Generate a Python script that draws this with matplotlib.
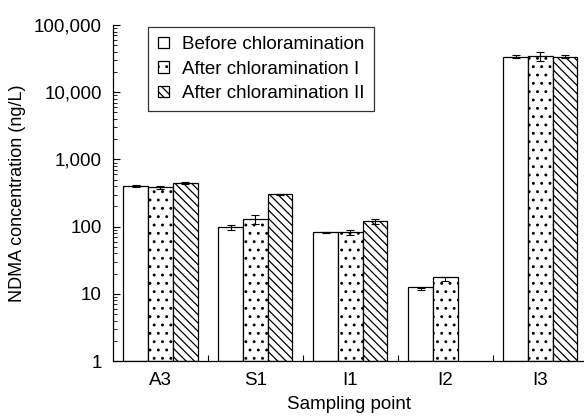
import matplotlib
matplotlib.use("Agg")
import matplotlib.pyplot as plt
import numpy as np
from matplotlib.ticker import FuncFormatter, LogLocator, FixedLocator

plt.rcParams['font.family'] = ['Liberation Sans', 'DejaVu Sans']
plt.rcParams['hatch.linewidth'] = 0.9

categories = ["A3", "S1", "I1", "I2", "I3"]
series_names = ["Before chloramination", "After chloramination I", "After chloramination II"]
before = [400, 97, 82, 11.8, 34000]
after1 = [385, 130, 82, 16.6, 34500]
after2 = [440, 305, 120, np.nan, 34000]
err_before = [10, 8, 2, 0.5, 2000]
err_after1 = [20, 20, 8, 1.2, 5000]
err_after2 = [15, 5, 10, 0, 1800]

fig = plt.figure(figsize=(5.84, 4.17), dpi=100)
ax = fig.add_axes([0.1935, 0.134, 0.8065, 0.806])

x = np.arange(len(categories))
w = 0.26
styles = [dict(hatch=None), dict(hatch='..'), dict(hatch='\\\\\\\\')]
vals = [before, after1, after2]
errs = [err_before, err_after1, err_after2]
handles = []
for i, (v, e, st, nm) in enumerate(zip(vals, errs, styles, series_names)):
    v = np.array(v, dtype=float)
    mask = ~np.isnan(v)
    pos = x + (i - 1) * w
    b = ax.bar(pos[mask], v[mask], width=w, bottom=1, color='white', edgecolor='black',
               linewidth=0.9, hatch=st['hatch'], label=nm, zorder=2)
    ax.errorbar(pos[mask], v[mask], yerr=np.array(e, dtype=float)[mask], fmt='none',
                ecolor='black', elinewidth=0.8, capsize=3, capthick=0.8, zorder=3)
    handles.append(b)

FS = 13.5
ax.set_yscale('log')
ax.set_ylim(1, 1e5)
ax.set_xlim(-0.5, 4.46)
ax.yaxis.set_major_locator(LogLocator(base=10, numticks=10))
ax.yaxis.set_minor_locator(LogLocator(base=10, subs=np.arange(2, 10), numticks=20))
ax.yaxis.set_major_formatter(FuncFormatter(lambda v, p: f"{int(round(v)):,}"))
ax.tick_params(axis='y', which='major', direction='in', length=5, width=0.8, labelsize=FS, pad=8)
ax.tick_params(axis='y', which='minor', direction='in', length=3, width=0.6)

ax.set_xticks(x)
ax.set_xticklabels(categories)
ax.xaxis.set_minor_locator(FixedLocator([0.5, 1.5, 2.5, 3.5]))
ax.tick_params(axis='x', which='major', length=0, labelsize=FS, pad=8)
ax.tick_params(axis='x', which='minor', direction='in', length=4, width=0.8)

ax.spines['top'].set_visible(False)
ax.spines['right'].set_visible(False)
ax.spines['left'].set_linewidth(0.9)
ax.spines['bottom'].set_linewidth(0.9)

ax.set_ylabel("NDMA concentration (ng/L)", fontsize=13, labelpad=6)
ax.set_xlabel("Sampling point", fontsize=FS, labelpad=5)

leg = ax.legend(handles=handles, labels=series_names, loc='upper left',
                bbox_to_anchor=(0.075, 0.995), fontsize=FS, frameon=True, fancybox=False,
                edgecolor='black', handlelength=0.6, handleheight=0.6, handletextpad=0.7,
                labelspacing=0.4, borderpad=0.5, borderaxespad=0.0)
leg.get_frame().set_linewidth(0.9)

fig.savefig("out.png", dpi=100)
